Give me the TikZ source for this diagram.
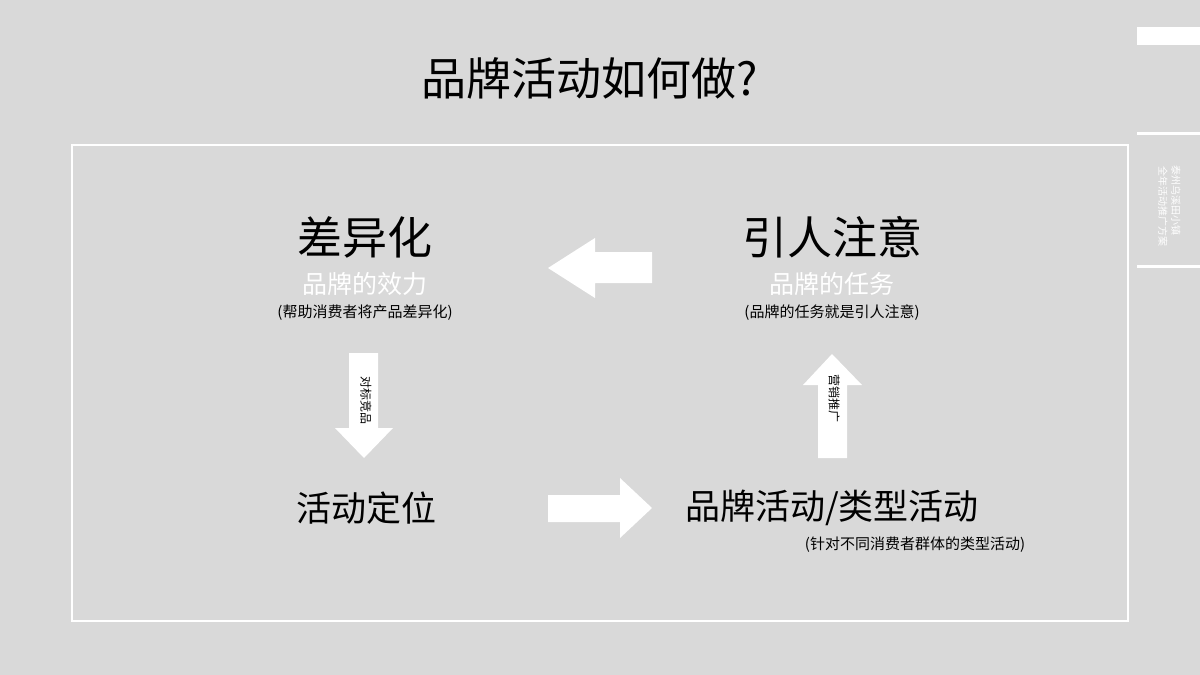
\documentclass[tikz,border=0pt]{standalone}
\usepackage{fontspec}
\setmainfont{Noto Sans CJK SC}
\begin{document}
\begin{tikzpicture}[x=1pt,y=-1pt,
  fs/.style={font=\fontsize{#1}{#1}\selectfont},
  wt/.style={text=white},
  blk/.style={fill=white,draw=none}]
\fill[fill={rgb,255:red,217;green,217;blue,217}] (0,0) rectangle (1200,675);
\useasboundingbox (0,0) rectangle (1200,675);
\node[fs=45] (title) at (590,78) {品牌活动如何做?};
\draw[white,line width=1.5] (72,145) rectangle (1128,621);
\fill[white] (1137,27) rectangle (1200,45);
\fill[white] (1137,132) rectangle (1200,135);
\fill[white] (1137,265) rectangle (1200,268);
\node[fs=10,wt,rotate=-90] (v1) at (1176,200) {泰州乌溪田小镇};
\node[fs=10,wt,rotate=-90] (v2) at (1163,206) {全年活动推广方案};
\node[fs=45] (a1) at (365,237) {差异化};
\node[fs=25,wt] (a2) at (365,284) {品牌的效力};
\node[fs=15] (a3) at (365,313) {(帮助消费者将产品差异化)};
\node[fs=45] (b1) at (832,237) {引人注意};
\node[fs=25,wt] (b2) at (832,284) {品牌的任务};
\node[fs=15] (b3) at (832,313) {(品牌的任务就是引人注意)};
\node[fs=35] (c1) at (366,508) {活动定位};
\node[fs=35] (d1) at (832,508) {品牌活动/类型活动};
\node[fs=15] (d2) at (915,545) {(针对不同消费者群体的类型活动)};
% left arrow
\fill[white] (652,252) -- (595,252) -- (595,238) -- (548,268) -- (595,298) -- (595,283) -- (652,283) -- cycle;
% right arrow
\fill[white] (548,495) -- (620,495) -- (620,478) -- (652,508) -- (620,538) -- (620,522) -- (548,522) -- cycle;
% down arrow
\fill[white] (349,353) -- (378,353) -- (378,428) -- (393,428) -- (364,458) -- (335,428) -- (349,428) -- cycle;
\node[fs=12,rotate=-90] (t1) at (366,400) {对标竞品};
% up arrow
\fill[white] (818,458) -- (847,458) -- (847,385) -- (862,385) -- (832,354) -- (803,385) -- (818,385) -- cycle;
\node[fs=12,rotate=-90] (t2) at (834,398) {营销推广};
\end{tikzpicture}
\end{document}
